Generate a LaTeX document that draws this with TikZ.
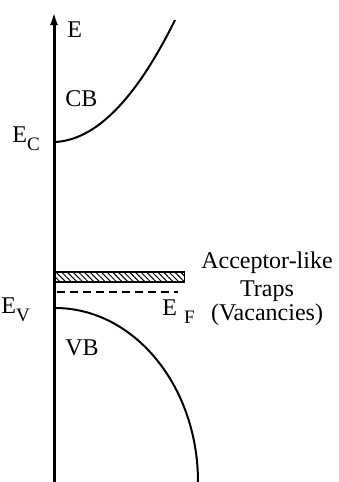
\documentclass[tikz,border=0pt]{standalone}
\usepackage{fontspec}
\setmainfont{Liberation Serif}
\usetikzlibrary{arrows.meta, patterns.meta}

\begin{document}
\begin{tikzpicture}[x=0.5pt, y=-0.5pt, >=Latex,
    every node/.style={inner sep=0pt, font=\fontsize{12}{14}\selectfont},
    band/.style={line width=1pt}]
    \useasboundingbox (0,0) rectangle (338,482);
    % Energy axis
    \coordinate (bottom) at (54,482);
    \coordinate (top) at (54,12);
    \draw[line width=1.5pt, -{Latex[length=6.5pt, width=4pt]}] (bottom) -- (top);
    \node[anchor=base west] (elabel) at (67,38) {E};
    % Conduction band
    \coordinate (ec) at (55,142);
    \coordinate (cbtop) at (175,20);
    \draw[band] (ec) .. controls (95,140) and (135,101) .. (cbtop);
    \node[anchor=base west] (cb) at (65,106) {CB};
    \node[anchor=base west] (eclabel) at (12,142) {E\raisebox{-4pt}{\fontsize{9.5}{10}\selectfont C}};
    % Valence band
    \coordinate (ev) at (55,308);
    \coordinate (vbend) at (198,482);
    \draw[band] (ev) .. controls (134,308) and (198,386) .. (vbend);
    \node[anchor=base west] (vb) at (65,355) {VB};
    \node[anchor=base west] (evlabel) at (1,313) {E\raisebox{-4pt}{\fontsize{9.5}{10}\selectfont V}};
    % Trap level
    \node[draw, line width=0.9pt, anchor=west, minimum width=64.5pt, minimum height=5pt,
        pattern={Lines[angle=-45, distance=2pt, line width=0.5pt]}] (traps) at (55,277) {};
    % Fermi level
    \coordinate (efl) at (57,292);
    \coordinate (efr) at (178,292);
    \draw[line width=0.9pt, dash pattern=on 4pt off 2.5pt] (efl) -- (efr);
    \node[anchor=base west] (eflabel) at (162,315) {E\hspace{3.5pt}\raisebox{-4pt}{\fontsize{9.5}{10}\selectfont F}};
    % Trap description
    \node[anchor=base] (acc) at (267,268) {Acceptor-like};
    \node[anchor=base] (trp) at (267,296) {Traps};
    \node[anchor=base] (vac) at (267,320) {(Vacancies)};
\end{tikzpicture}
\end{document}
